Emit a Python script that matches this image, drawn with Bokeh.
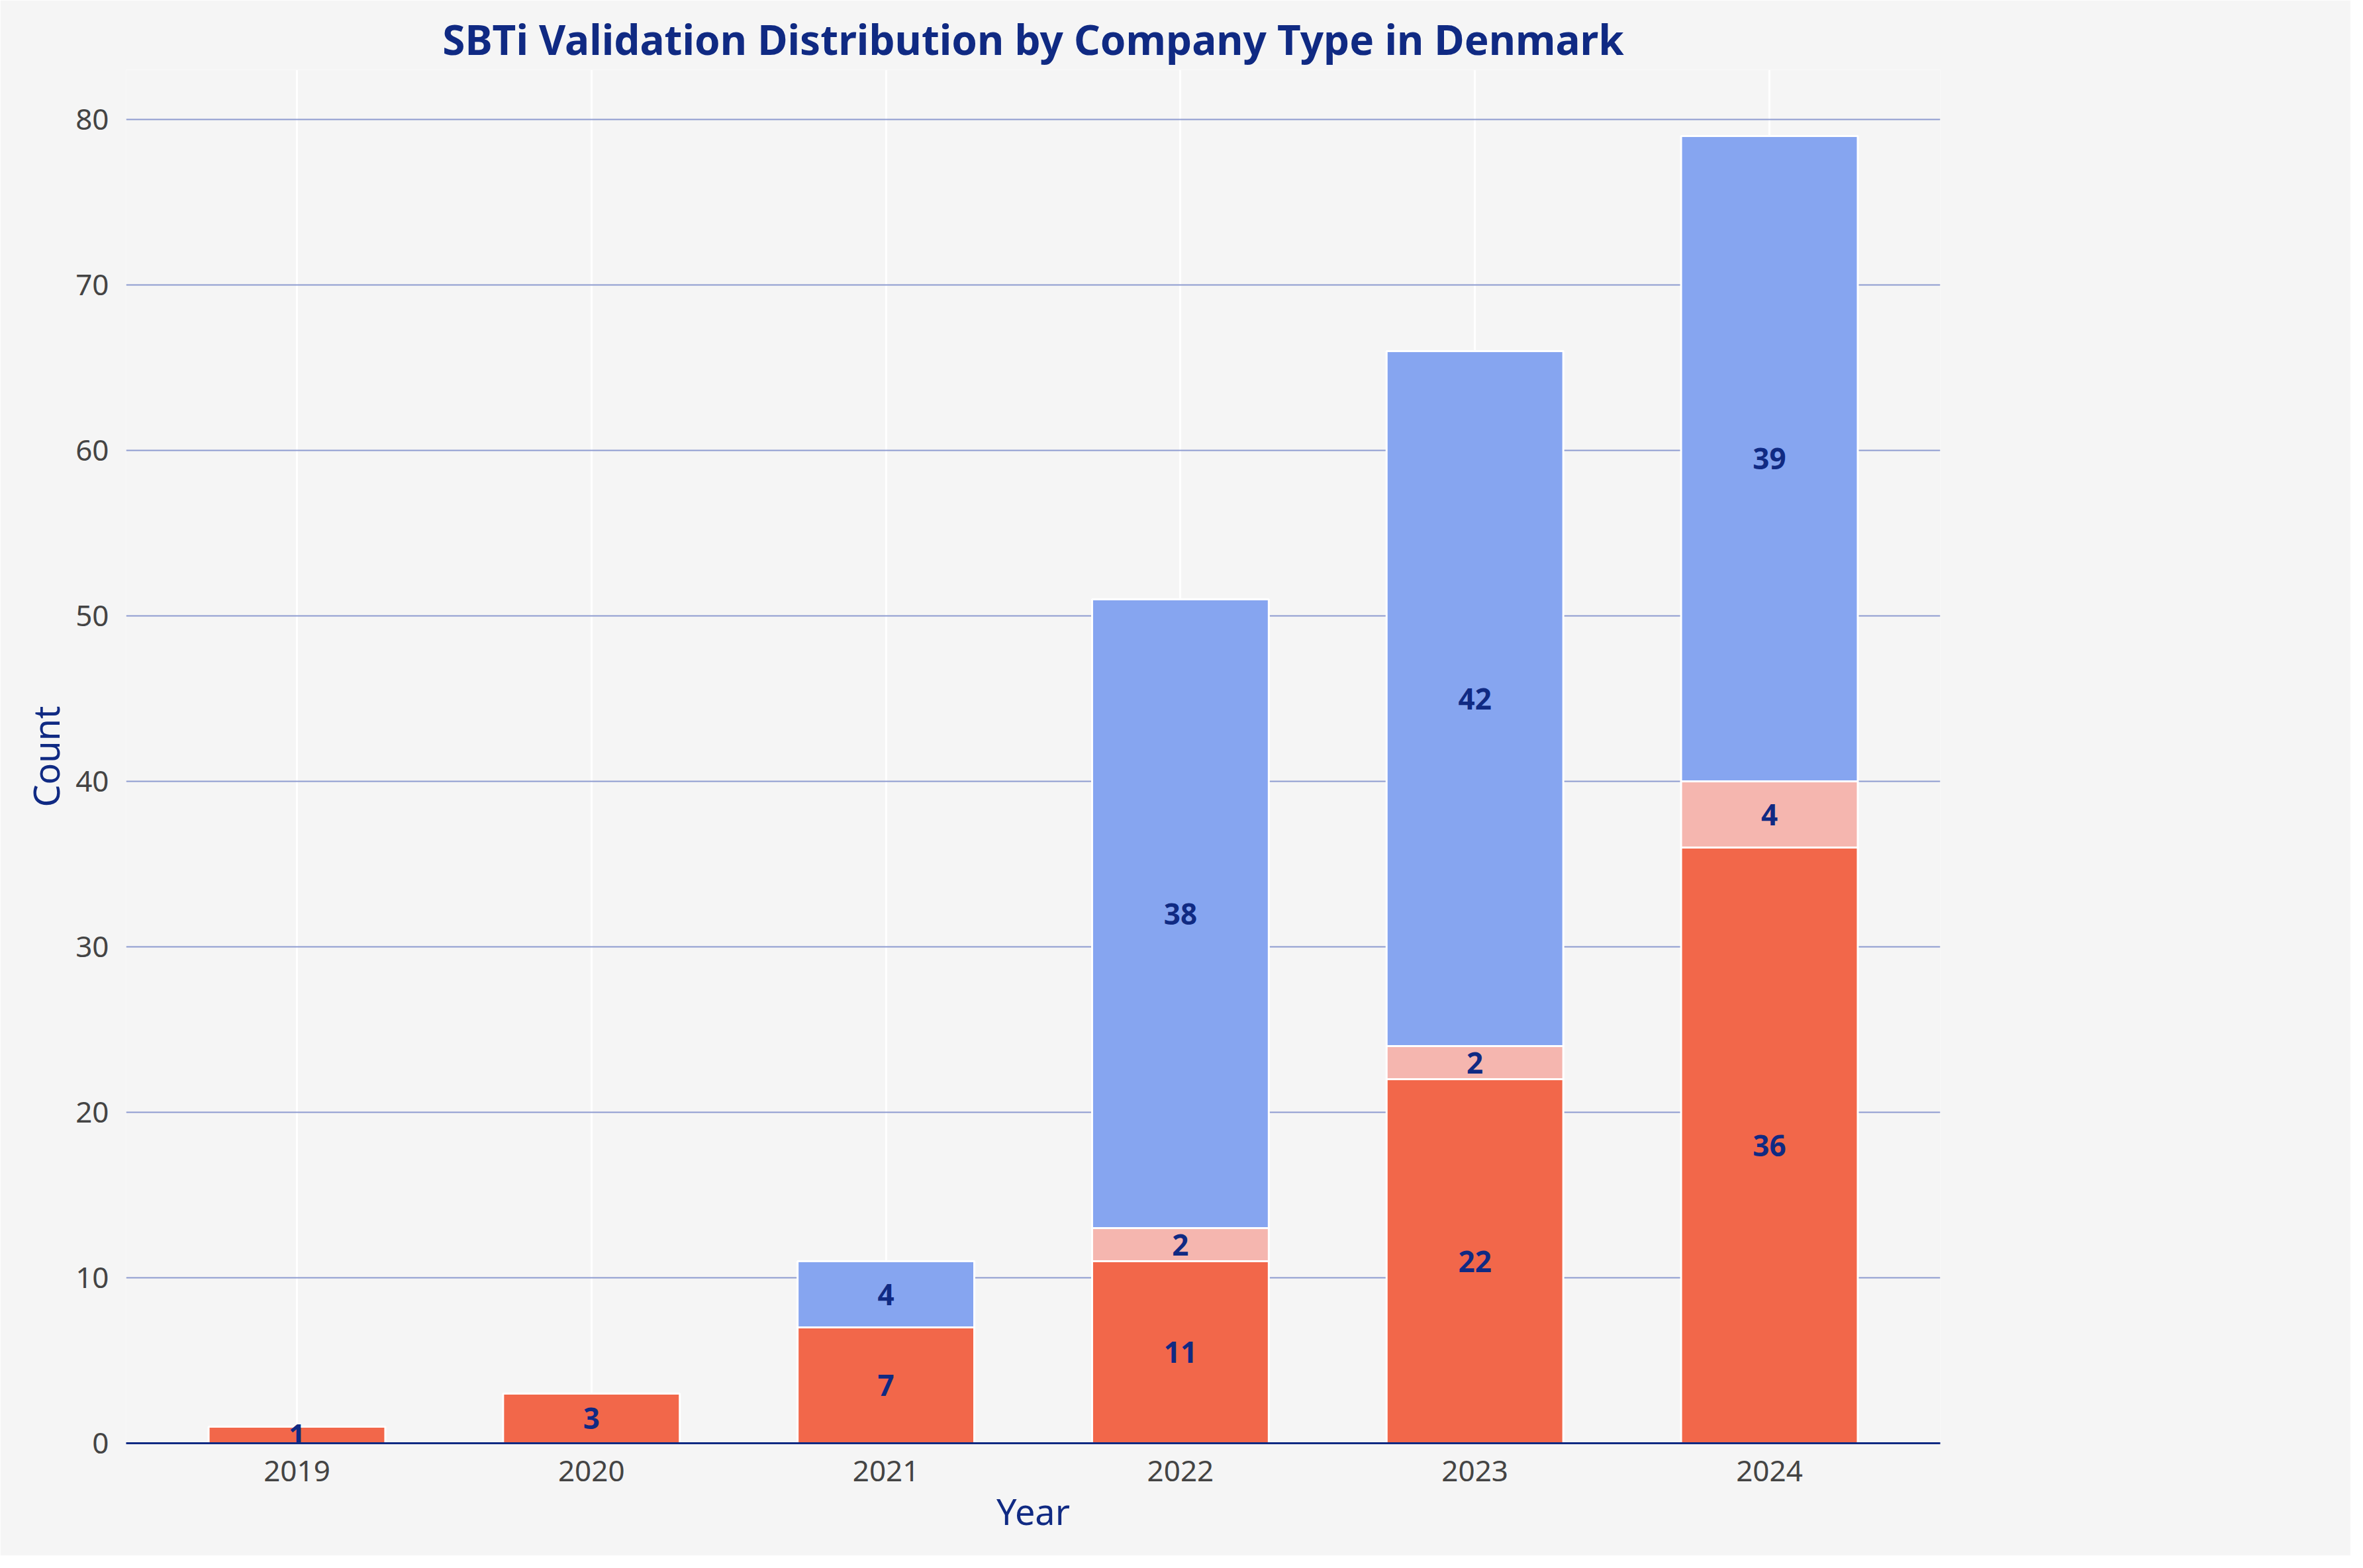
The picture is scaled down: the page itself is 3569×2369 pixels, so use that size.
from bokeh.plotting import figure
from bokeh.models import ColumnDataSource, Legend, LegendItem, Range1d, FixedTicker
from bokeh.core.properties import value
from bokeh.embed import file_html
from bokeh.resources import INLINE

years = [2019, 2020, 2021, 2022, 2023, 2024]
corporate = [1, 3, 7, 11, 22, 36]
financial = [0, 0, 0, 2, 2, 4]
sme = [0, 0, 4, 38, 42, 39]
types = ["Corporate", "Financial Institution", "SME"]
colors = ["#f2674a", "#f5b6af", "#86a5f0"]

FONT = "Noto Sans"
BLUE = "#102a83"

src = ColumnDataSource(dict(x=years, Corporate=corporate,
                            Financial=financial, SME=sme))

p = figure(width=3550, height=2350, output_backend="svg", toolbar_location=None,
           x_range=Range1d(2018.42, 2024.58), y_range=Range1d(0, 83),
           background_fill_color="#f5f5f5", border_fill_color="#f5f5f5",
           outline_line_color=None, min_border_left=190, min_border_top=105,
           min_border_bottom=170, min_border_right=620)

p.title.text = "SBTi Validation Distribution by Company Type in Denmark"
p.title.align = "center"
p.title.text_font = FONT
p.title.text_font_size = "62px"
p.title.text_color = BLUE

rs = p.vbar_stack(["Corporate", "Financial", "SME"], x="x", width=0.6, source=src,
                  color=colors, line_color="white", line_width=3)

# segment labels
lx, ly, lt = [], [], []
for i, yr in enumerate(years):
    base = 0
    for v in (corporate[i], financial[i], sme[i]):
        if v > 0:
            lx.append(yr)
            ly.append(base + v / 2)
            lt.append(str(v))
        base += v
p.text(x=lx, y=ly, text=lt, text_align="center", text_baseline="middle",
       text_font=value(FONT), text_font_style="bold", text_font_size="44px",
       text_color=BLUE)

legend = Legend(items=[LegendItem(label=t, renderers=[r]) for t, r in zip(types, rs)],
                title="Organization Type", location=(2760, 1800),
                background_fill_color="#f5f5f5", border_line_color=None,
                label_text_font=FONT, label_text_font_size="40px",
                label_text_color="#333333", title_text_font="Liberation Sans",
                title_text_font_size="42px", title_text_color="#222222",
                title_text_font_style="normal", title_standoff=20,
                glyph_width=90, glyph_height=36, label_height=60, spacing=12,
                margin=0, padding=20)
p.add_layout(legend)

p.xaxis.ticker = FixedTicker(ticks=years)
p.yaxis.ticker = FixedTicker(ticks=list(range(0, 90, 10)))
for ax in (p.xaxis, p.yaxis):
    ax.major_label_text_font = FONT
    ax.major_label_text_font_size = "44px"
    ax.major_label_text_color = "#444444"
    ax.axis_label_text_font = FONT
    ax.axis_label_text_font_size = "54px"
    ax.axis_label_text_color = BLUE
    ax.axis_label_text_font_style = "normal"
    ax.major_tick_line_color = None
    ax.minor_tick_line_color = None
    ax.major_label_standoff = 20
p.xaxis.axis_label = "Year"
p.yaxis.axis_label = "Count"
p.xaxis.axis_line_color = BLUE
p.xaxis.axis_line_width = 3
p.yaxis.axis_line_color = None

p.ygrid.grid_line_color = "#8e9bd0"
p.ygrid.grid_line_width = 2
p.xgrid.grid_line_color = "white"
p.xgrid.grid_line_width = 3

open("out.html", "w").write(file_html(p, INLINE))
